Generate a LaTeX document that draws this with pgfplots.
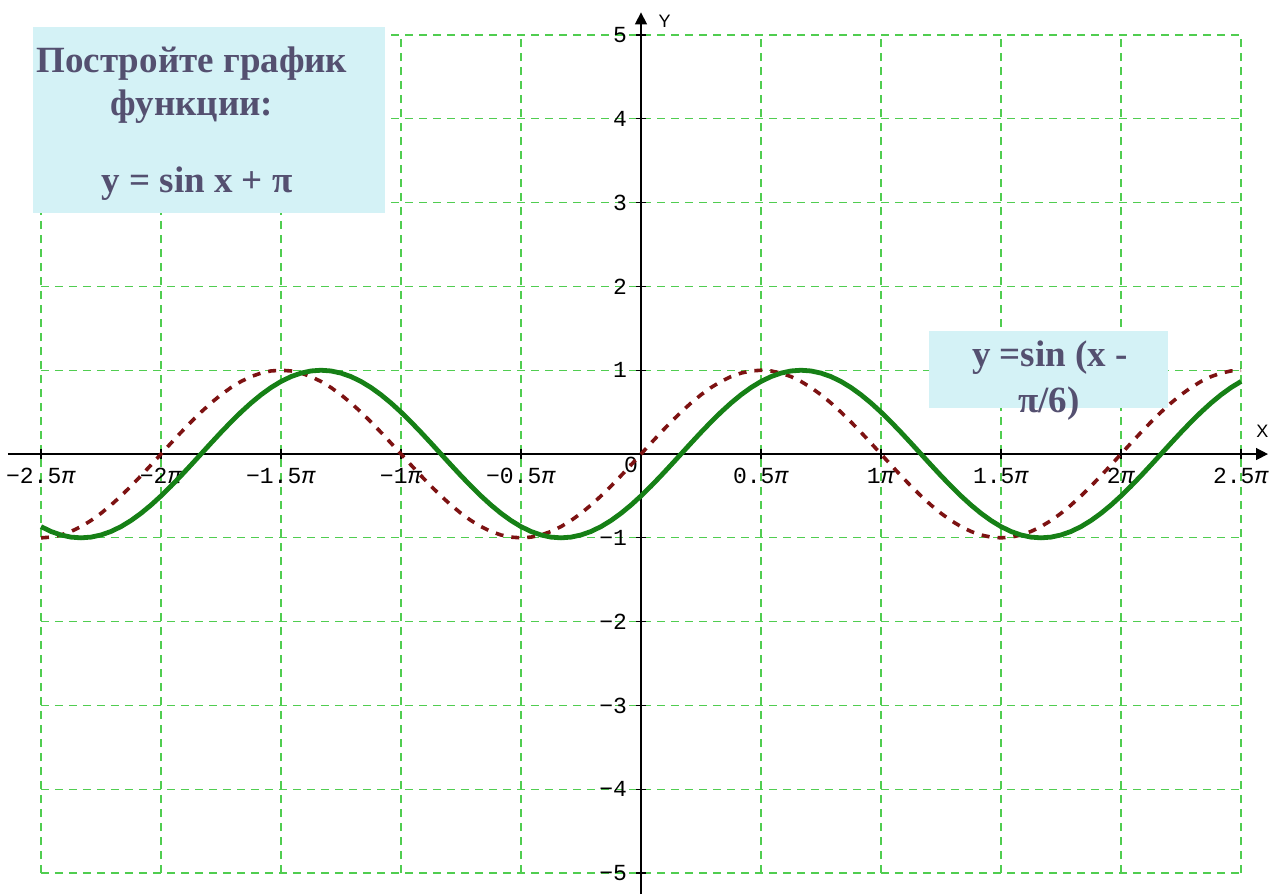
\documentclass[border=0pt]{standalone}
\usepackage{fontspec}
\setmainfont{Liberation Serif}
\newfontfamily\tickfont{Liberation Mono}
\newfontfamily\labfont{Liberation Sans}
\usepackage{pgfplots}
\usepackage{pgfplotstable}
\pgfplotsset{compat=1.18}
\usetikzlibrary{arrows.meta}

\definecolor{gridgreen}{RGB}{80,205,80}
\definecolor{sinred}{RGB}{125,18,18}
\definecolor{singreen}{RGB}{22,128,22}
\definecolor{boxfill}{RGB}{212,242,246}
\definecolor{boxtext}{RGB}{84,80,112}

% x in degrees, s = sin x, g = sin(x - 30)
\pgfplotstableread{
x s g
-450 -1 -0.8660
-442.5 -0.9914 -0.9239
-435 -0.9659 -0.9659
-427.5 -0.9239 -0.9914
-420 -0.8660 -1
-412.5 -0.7934 -0.9914
-405 -0.7071 -0.9659
-397.5 -0.6088 -0.9239
-390 -0.5 -0.8660
-382.5 -0.3827 -0.7934
-375 -0.2588 -0.7071
-367.5 -0.1305 -0.6088
-360 0 -0.5
-352.5 0.1305 -0.3827
-345 0.2588 -0.2588
-337.5 0.3827 -0.1305
-330 0.5 0
-322.5 0.6088 0.1305
-315 0.7071 0.2588
-307.5 0.7934 0.3827
-300 0.8660 0.5
-292.5 0.9239 0.6088
-285 0.9659 0.7071
-277.5 0.9914 0.7934
-270 1 0.8660
-262.5 0.9914 0.9239
-255 0.9659 0.9659
-247.5 0.9239 0.9914
-240 0.8660 1
-232.5 0.7934 0.9914
-225 0.7071 0.9659
-217.5 0.6088 0.9239
-210 0.5 0.8660
-202.5 0.3827 0.7934
-195 0.2588 0.7071
-187.5 0.1305 0.6088
-180 0 0.5
-172.5 -0.1305 0.3827
-165 -0.2588 0.2588
-157.5 -0.3827 0.1305
-150 -0.5 0
-142.5 -0.6088 -0.1305
-135 -0.7071 -0.2588
-127.5 -0.7934 -0.3827
-120 -0.8660 -0.5
-112.5 -0.9239 -0.6088
-105 -0.9659 -0.7071
-97.5 -0.9914 -0.7934
-90 -1 -0.8660
-82.5 -0.9914 -0.9239
-75 -0.9659 -0.9659
-67.5 -0.9239 -0.9914
-60 -0.8660 -1
-52.5 -0.7934 -0.9914
-45 -0.7071 -0.9659
-37.5 -0.6088 -0.9239
-30 -0.5 -0.8660
-22.5 -0.3827 -0.7934
-15 -0.2588 -0.7071
-7.5 -0.1305 -0.6088
0 0 -0.5
7.5 0.1305 -0.3827
15 0.2588 -0.2588
22.5 0.3827 -0.1305
30 0.5 0
37.5 0.6088 0.1305
45 0.7071 0.2588
52.5 0.7934 0.3827
60 0.8660 0.5
67.5 0.9239 0.6088
75 0.9659 0.7071
82.5 0.9914 0.7934
90 1 0.8660
97.5 0.9914 0.9239
105 0.9659 0.9659
112.5 0.9239 0.9914
120 0.8660 1
127.5 0.7934 0.9914
135 0.7071 0.9659
142.5 0.6088 0.9239
150 0.5 0.8660
157.5 0.3827 0.7934
165 0.2588 0.7071
172.5 0.1305 0.6088
180 0 0.5
187.5 -0.1305 0.3827
195 -0.2588 0.2588
202.5 -0.3827 0.1305
210 -0.5 0
217.5 -0.6088 -0.1305
225 -0.7071 -0.2588
232.5 -0.7934 -0.3827
240 -0.8660 -0.5
247.5 -0.9239 -0.6088
255 -0.9659 -0.7071
262.5 -0.9914 -0.7934
270 -1 -0.8660
277.5 -0.9914 -0.9239
285 -0.9659 -0.9659
292.5 -0.9239 -0.9914
300 -0.8660 -1
307.5 -0.7934 -0.9914
315 -0.7071 -0.9659
322.5 -0.6088 -0.9239
330 -0.5 -0.8660
337.5 -0.3827 -0.7934
345 -0.2588 -0.7071
352.5 -0.1305 -0.6088
360 0 -0.5
367.5 0.1305 -0.3827
375 0.2588 -0.2588
382.5 0.3827 -0.1305
390 0.5 0
397.5 0.6088 0.1305
405 0.7071 0.2588
412.5 0.7934 0.3827
420 0.8660 0.5
427.5 0.9239 0.6088
435 0.9659 0.7071
442.5 0.9914 0.7934
450 1 0.8660
}\sindata

\newcommand{\boxfont}{\fontsize{18.5}{22}\bfseries\selectfont\color{boxtext}}
\newcommand{\tickfs}{\tickfont\fontsize{11.5}{13}\selectfont}

\begin{document}
\begin{tikzpicture}
\begin{axis}[
    scale only axis, width=600pt, height=419pt,
    xmin=-450, xmax=450, ymin=-5, ymax=5,
    axis lines=middle, axis line style={draw=none},
    clip=false,
    xtick={-450,-360,-270,-180,-90,90,180,270,360,450},
    xticklabels={{−2.5\textit{π}},{−2\textit{π}},{−1.5\textit{π}},{−1\textit{π}},{−0.5\textit{π}},
                 {0.5\textit{π}},{1\textit{π}},{1.5\textit{π}},{2\textit{π}},{2.5\textit{π}}},
    ytick={-5,-4,-3,-2,-1,1,2,3,4,5},
    yticklabels={−5,−4,−3,−2,−1,1,2,3,4,5},
    tick label style={font=\tickfs, black},
    xticklabel style={anchor=north, yshift=-1pt},
    yticklabel style={anchor=east, xshift=-1pt},
    tick align=center, major tick length=5pt,
    tick style={black, line width=0.6pt},
    grid=major,
    major grid style={gridgreen, line width=0.6pt, dash pattern=on 4pt off 3pt},
]
\coordinate (bl) at (axis cs:-480.75,-5.25);
\coordinate (tr) at (axis cs:471.75,5.418);

% axes
\draw[black, line width=0.7pt, -{Triangle[length=6pt,width=6pt]}]
    (axis cs:-474.75,0) -- (axis cs:470.25,0);
\draw[black, line width=0.7pt, -{Triangle[length=6pt,width=6pt]}]
    (axis cs:0,-5.25) -- (axis cs:0,5.27);
\node[font=\labfont\fontsize{9}{10}\selectfont, anchor=west] at (axis cs:8,5.16) {Y};
\node[font=\labfont\fontsize{9}{10}\selectfont] at (axis cs:466,0.27) {X};
\node[font=\tickfs] at (axis cs:-7.5,-0.13) {0};

\addplot[sinred, line width=1.8pt, dash pattern=on 4pt off 4pt] table[x=x, y=s] {\sindata};
\addplot[singreen, line width=2.4pt] table[x=x, y=g] {\sindata};

% text boxes
\fill[boxfill] (axis cs:-456,5.095) rectangle (axis cs:-192,2.876);
\fill[boxfill] (axis cs:216,1.468) rectangle (axis cs:395.25,0.549);
\node[anchor=base, inner sep=0pt] at (axis cs:-336.75,4.558) {\boxfont Постройте график};
\node[anchor=base, inner sep=0pt] at (axis cs:-336.75,4.045) {\boxfont функции:};
\node[anchor=base, inner sep=0pt] at (axis cs:-333,3.115) {\boxfont y = sin x + π};
\node[anchor=base, inner sep=0pt] at (axis cs:306.75,1.05) {\boxfont y =sin (x -};
\node[anchor=base, inner sep=0pt] at (axis cs:306,0.501) {\boxfont π/6)};
\end{axis}
\pgfresetboundingbox
\path[use as bounding box] (bl) rectangle (tr);
\end{tikzpicture}
\end{document}
